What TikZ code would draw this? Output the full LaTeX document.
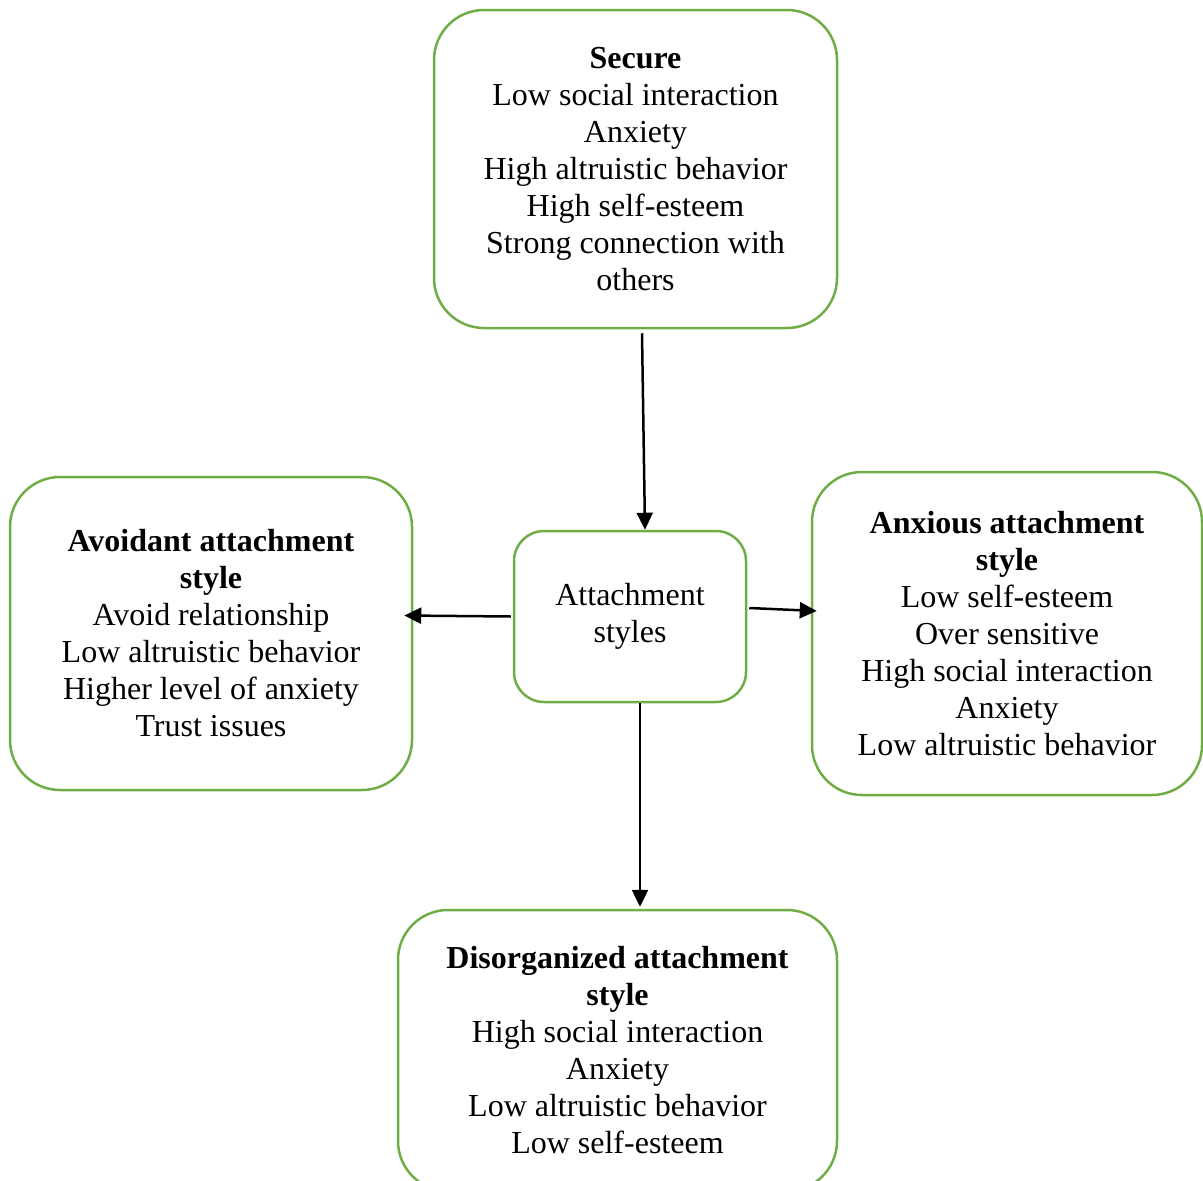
\documentclass[tikz,border=0pt]{standalone}
\usepackage{fontspec}
\setmainfont{Liberation Serif}
\usetikzlibrary{arrows.meta,positioning}
\definecolor{boxgreen}{RGB}{112,173,71}

\begin{document}
\begin{tikzpicture}[x=1pt,y=-1pt,
    stylebox/.style={draw=boxgreen, line width=2.5pt, rounded corners=50pt, align=center,
      inner sep=0pt, font=\fontsize{32}{37}\selectfont},
    link/.style={-{Triangle[length=17pt,width=16pt]}, line width=2.5pt, black}]
    \clip (0,0) rectangle (1203,1181);
    % Centre box
    \node[stylebox, rounded corners=30pt, minimum width=232pt, minimum height=171pt]
      (att) at (630,616.5) {Attachment\\styles};
    % Four attachment styles
    \node[stylebox, minimum width=403pt, minimum height=318pt] (secure) at (635.5,169)
      {\textbf{Secure}\\Low social interaction\\Anxiety\\High altruistic behavior\\
       High self-esteem\\Strong connection with\\others};
    \node[stylebox, minimum width=402pt, minimum height=313pt] (avoid) at (211,633.5)
      {\textbf{Avoidant attachment}\\\textbf{style}\\Avoid relationship\\Low altruistic behavior\\
       Higher level of anxiety\\Trust issues};
    \node[stylebox, minimum width=390pt, minimum height=323pt] (anx) at (1007,633.5)
      {\textbf{Anxious attachment}\\\textbf{style}\\Low self-esteem\\Over sensitive\\
       High social interaction\\Anxiety\\Low altruistic behavior};
    \node[stylebox, minimum width=439pt, minimum height=281pt] (dis) at (617.5,1050.5)
      {\textbf{Disorganized attachment}\\\textbf{style}\\High social interaction\\Anxiety\\
       Low altruistic behavior\\Low self-esteem};
    % Arrows
    \draw[link] ([xshift=6.5pt,yshift=-4pt]secure.south) -- ([xshift=15pt]att.north);
    \draw[link] ([xshift=-2pt]att.west) -- ([xshift=-9pt,yshift=18pt]avoid.east);
    \draw[link] ([xshift=2pt,yshift=8.5pt]att.east) -- ([xshift=6pt,yshift=22.5pt]anx.west);
    \draw[link] ([xshift=10pt]att.south) -- ([xshift=22.5pt,yshift=2pt]dis.north);
\end{tikzpicture}
\end{document}
